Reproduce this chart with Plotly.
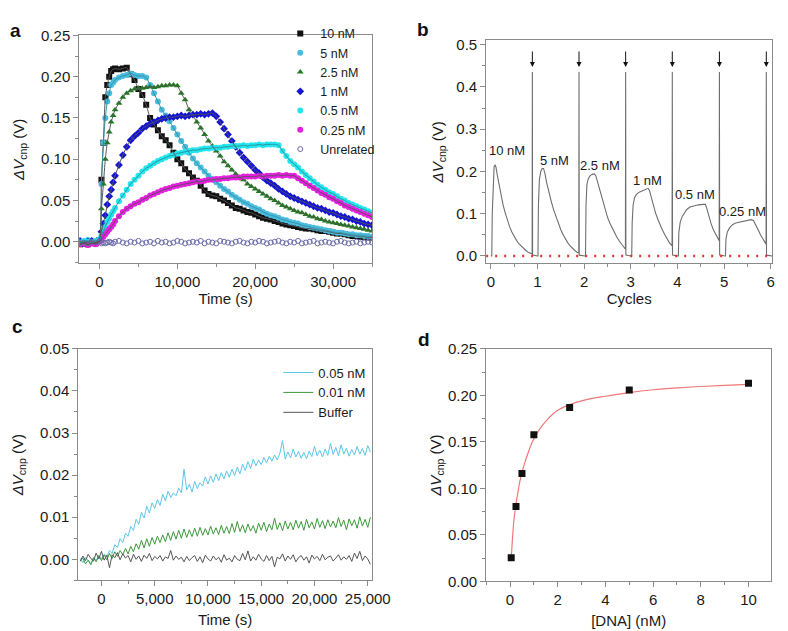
import plotly.graph_objects as go

W, H = 788, 631
FONT = "Liberation Sans, Arial, Helvetica, sans-serif"

# ---------------- Panel a: kinetics for several concentrations ----------------
t_a = list(range(-2500, 0, 500)) + list(range(0, 2001, 250)) + list(range(2500, 35001, 500))

a_10nM = [-0.003, -0.002, -0.003, -0.001, -0.002,
          0.002, 0.075, 0.120, 0.175, 0.190, 0.200, 0.207, 0.209, 0.210,
          0.209, 0.210, 0.211, 0.203, 0.196, 0.185, 0.178, 0.166, 0.150, 0.142,
          0.135, 0.128, 0.123, 0.117, 0.108, 0.100, 0.095, 0.088, 0.083, 0.078,
          0.074, 0.068, 0.062, 0.058, 0.056, 0.055, 0.052, 0.050, 0.047, 0.044,
          0.041, 0.040, 0.038, 0.036, 0.035, 0.033, 0.031, 0.029, 0.028, 0.027,
          0.025, 0.024, 0.022, 0.021, 0.020, 0.019, 0.018, 0.017, 0.016, 0.016,
          0.015, 0.014, 0.013, 0.013, 0.012, 0.011, 0.010, 0.010, 0.009, 0.008,
          0.007, 0.007, 0.006, 0.006, 0.005, 0.005]
a_5nM = [-0.001, 0.000, 0.002, 0.001, 0.000,
         0.003, 0.070, 0.120, 0.150, 0.170, 0.180, 0.190, 0.193, 0.196,
         0.199, 0.201, 0.202, 0.204, 0.202, 0.201, 0.201, 0.199, 0.190, 0.180,
         0.170, 0.160, 0.153, 0.146, 0.138, 0.130, 0.122, 0.115, 0.108, 0.101,
         0.095, 0.090, 0.085, 0.080, 0.076, 0.072, 0.068, 0.064, 0.061, 0.057,
         0.054, 0.051, 0.048, 0.046, 0.043, 0.041, 0.039, 0.036, 0.034, 0.032,
         0.031, 0.029, 0.027, 0.026, 0.024, 0.023, 0.022, 0.020, 0.019, 0.018,
         0.017, 0.016, 0.015, 0.014, 0.013, 0.012, 0.011, 0.011, 0.010, 0.009,
         0.009, 0.008, 0.008, 0.007, 0.007, 0.006]
a_2p5nM = [-0.002, -0.001, 0.000, -0.002, -0.001,
           0.002, 0.040, 0.070, 0.100, 0.120, 0.133, 0.145, 0.153, 0.160,
           0.168, 0.175, 0.180, 0.183, 0.185, 0.186, 0.186, 0.187, 0.188, 0.187,
           0.188, 0.189, 0.189, 0.190, 0.190, 0.189, 0.180, 0.172, 0.160, 0.153,
           0.145, 0.138, 0.130, 0.122, 0.116, 0.110, 0.104, 0.097, 0.092, 0.087,
           0.082, 0.078, 0.075, 0.070, 0.067, 0.064, 0.061, 0.058, 0.055, 0.052,
           0.050, 0.047, 0.044, 0.042, 0.040, 0.038, 0.036, 0.035, 0.033, 0.031,
           0.030, 0.028, 0.027, 0.025, 0.024, 0.023, 0.022, 0.021, 0.020, 0.019,
           0.018, 0.017, 0.016, 0.015, 0.014, 0.013]
a_1nM = [0.001, -0.001, 0.000, 0.001, -0.001,
         0.002, 0.012, 0.022, 0.032, 0.045, 0.055, 0.063, 0.072, 0.080,
         0.093, 0.105, 0.115, 0.123, 0.128, 0.132, 0.137, 0.140, 0.143, 0.145,
         0.147, 0.149, 0.150, 0.151, 0.151, 0.152, 0.153, 0.152, 0.153, 0.154,
         0.154, 0.155, 0.154, 0.155, 0.156, 0.152, 0.145, 0.137, 0.130, 0.122,
         0.115, 0.108, 0.102, 0.097, 0.092, 0.087, 0.083, 0.078, 0.074, 0.071,
         0.068, 0.064, 0.061, 0.058, 0.055, 0.053, 0.051, 0.049, 0.047, 0.045,
         0.043, 0.041, 0.040, 0.038, 0.036, 0.035, 0.033, 0.031, 0.030, 0.028,
         0.027, 0.025, 0.024, 0.022, 0.021, 0.020]
a_0p5nM = [-0.001, 0.001, 0.000, -0.001, 0.001,
           0.002, 0.008, 0.013, 0.018, 0.024, 0.028, 0.033, 0.037, 0.041,
           0.049, 0.056, 0.063, 0.070, 0.075, 0.080, 0.085, 0.089, 0.092, 0.095,
           0.098, 0.100, 0.102, 0.104, 0.105, 0.107, 0.108, 0.109, 0.110, 0.111,
           0.111, 0.112, 0.113, 0.113, 0.114, 0.114, 0.114, 0.115, 0.115, 0.116,
           0.116, 0.116, 0.117, 0.116, 0.117, 0.117, 0.118, 0.117, 0.118, 0.118,
           0.118, 0.117, 0.110, 0.104, 0.098, 0.094, 0.090, 0.085, 0.081, 0.077,
           0.073, 0.069, 0.066, 0.063, 0.060, 0.058, 0.055, 0.052, 0.050, 0.047,
           0.045, 0.043, 0.041, 0.039, 0.037, 0.035]
a_0p25nM = [-0.003, -0.002, -0.004, -0.002, -0.003,
            0.000, 0.003, 0.006, 0.009, 0.012, 0.015, 0.018, 0.021, 0.025,
            0.031, 0.036, 0.040, 0.043, 0.046, 0.048, 0.051, 0.053, 0.056, 0.058,
            0.060, 0.062, 0.064, 0.065, 0.067, 0.068, 0.069, 0.070, 0.071, 0.072,
            0.073, 0.073, 0.074, 0.075, 0.075, 0.076, 0.076, 0.077, 0.077, 0.078,
            0.078, 0.078, 0.079, 0.079, 0.079, 0.079, 0.080, 0.079, 0.080, 0.080,
            0.080, 0.081, 0.080, 0.081, 0.080, 0.080, 0.077, 0.074, 0.071, 0.068,
            0.065, 0.062, 0.059, 0.057, 0.054, 0.052, 0.049, 0.047, 0.044, 0.042,
            0.040, 0.038, 0.036, 0.034, 0.032, 0.030]
a_unrel = [-0.002, -0.001, -0.002, 0.000, -0.001,
           0.001, -0.002, -0.001, -0.002, -0.001, 0.000, -0.001, -0.002, 0.000,
           0.001, -0.001, -0.002, 0.000, -0.001, 0.001, -0.002, -0.001, 0.000, -0.002,
           0.001, -0.001, 0.000, -0.002, -0.001, 0.001, 0.000, -0.002, -0.001, 0.000,
           -0.001, 0.001, -0.002, 0.000, -0.001, -0.002, 0.001, 0.000, -0.001, -0.002,
           0.000, 0.001, -0.001, -0.002, 0.000, -0.001, 0.001, 0.000, -0.002, -0.001,
           0.000, 0.001, -0.001, -0.002, 0.000, -0.001, 0.001, -0.002, -0.001, 0.000,
           0.001, -0.002, -0.001, 0.000, -0.001, -0.002, 0.000, 0.001, -0.001, -0.002,
           -0.001, 0.000, -0.002, -0.001, 0.000, -0.001]

a_names = ["10 nM", "5 nM", "2.5 nM", "1 nM", "0.5 nM", "0.25 nM"]
a_series = [a_10nM, a_5nM, a_2p5nM, a_1nM, a_0p5nM, a_0p25nM]
a_colors = ["#111111", "#48bde0", "#1e7d1e", "#1414d4", "#22e6ef", "#e61ee0"]
a_symbols = ["square", "circle", "triangle-up", "diamond", "circle", "circle"]
a_fitcolors = ["#555555", "#3a8f9c", "#555555", "#555555", "#2f8f96", "#555555"]

# ---------------- Panel b: regeneration cycles ----------------
b_x = [0.00, 0.02,
       0.03, 0.05, 0.07, 0.09, 0.11, 0.14, 0.18, 0.22, 0.26, 0.30, 0.35, 0.40, 0.45, 0.50,
       0.55, 0.60, 0.65, 0.70, 0.75, 0.80, 0.85, 0.885, 0.89, 0.895, 1.00,
       1.01, 1.02, 1.04, 1.07, 1.10, 1.13, 1.16, 1.20, 1.25, 1.30, 1.35, 1.40, 1.45, 1.50,
       1.55, 1.60, 1.65, 1.70, 1.75, 1.80, 1.85, 1.885, 1.89, 1.895, 2.02,
       2.03, 2.04, 2.06, 2.09, 2.13, 2.17, 2.22, 2.25, 2.28, 2.32, 2.36, 2.40, 2.45, 2.50,
       2.55, 2.60, 2.65, 2.70, 2.75, 2.80, 2.85, 2.885, 2.89, 2.895, 3.01,
       3.02, 3.03, 3.05, 3.08, 3.12, 3.18, 3.25, 3.32, 3.37, 3.40, 3.44, 3.48, 3.53, 3.58,
       3.63, 3.68, 3.73, 3.78, 3.83, 3.885, 3.89, 3.895, 4.01,
       4.02, 4.03, 4.06, 4.10, 4.15, 4.20, 4.27, 4.35, 4.45, 4.55, 4.60, 4.63, 4.67, 4.72,
       4.77, 4.82, 4.86, 4.895, 4.90, 4.905, 5.02,
       5.03, 5.04, 5.07, 5.12, 5.18, 5.25, 5.33, 5.42, 5.50, 5.58, 5.63, 5.68, 5.73, 5.78,
       5.83, 5.87, 5.90, 5.905, 5.91, 6.03]
b_y = [0.000, 0.000,
       0.100, 0.190, 0.212, 0.215, 0.210, 0.190, 0.165, 0.142, 0.122, 0.105, 0.086, 0.070, 0.057, 0.046,
       0.037, 0.029, 0.023, 0.017, 0.013, 0.009, 0.006, 0.005, 0.435, 0.002, 0.000,
       0.000, 0.120, 0.180, 0.200, 0.207, 0.207, 0.195, 0.172, 0.148, 0.127, 0.108, 0.091, 0.076, 0.062,
       0.050, 0.040, 0.031, 0.024, 0.018, 0.013, 0.009, 0.007, 0.435, 0.002, 0.000,
       0.000, 0.120, 0.170, 0.183, 0.190, 0.193, 0.194, 0.190, 0.178, 0.160, 0.142, 0.126, 0.108, 0.092,
       0.078, 0.066, 0.055, 0.045, 0.036, 0.028, 0.021, 0.016, 0.435, 0.002, 0.000,
       0.000, 0.080, 0.120, 0.138, 0.146, 0.151, 0.155, 0.158, 0.160, 0.155, 0.138, 0.120, 0.102, 0.087,
       0.073, 0.061, 0.050, 0.040, 0.031, 0.024, 0.435, 0.002, 0.000,
       0.000, 0.055, 0.080, 0.093, 0.103, 0.110, 0.116, 0.119, 0.121, 0.122, 0.122, 0.112, 0.095, 0.077,
       0.062, 0.050, 0.042, 0.036, 0.435, 0.002, 0.000,
       0.000, 0.040, 0.057, 0.067, 0.074, 0.078, 0.080, 0.082, 0.084, 0.086, 0.084, 0.074, 0.062, 0.050,
       0.040, 0.033, 0.028, 0.435, 0.002, 0.000]
b_spikes = [0.89, 1.89, 2.89, 3.89, 4.90, 5.905]
b_labels = ["10 nM", "5 nM", "2.5 nM", "1 nM", "0.5 nM", "0.25 nM"]
b_label_x = [0.34, 1.37, 2.35, 3.36, 4.37, 5.39]
b_label_y = [0.250, 0.227, 0.215, 0.178, 0.146, 0.105]

# ---------------- Panel c: low concentrations ----------------
t_c = list(range(-2000, 25251, 250))
c_0p05nM = [0.0002, -0.0008, 0.0004, -0.0003, -0.0010, 0.0003, -0.0002, 0.0008, 0.0001, 0.0012,
            0.0006, 0.0021, 0.0014, 0.0035, 0.0028, 0.0049, 0.0040, 0.0062, 0.0055, 0.0078,
            0.0069, 0.0095, 0.0083, 0.0112, 0.0098, 0.0126, 0.0110, 0.0134, 0.0121, 0.0142,
            0.0128, 0.0155, 0.0139, 0.0162, 0.0147, 0.0158, 0.0151, 0.0169, 0.0158, 0.0214,
            0.0165, 0.0178, 0.0160, 0.0185, 0.0168, 0.0182, 0.0174, 0.0196, 0.0179, 0.0198,
            0.0183, 0.0203, 0.0187, 0.0206, 0.0191, 0.0210, 0.0195, 0.0214, 0.0199, 0.0219,
            0.0203, 0.0226, 0.0211, 0.0232, 0.0216, 0.0238, 0.0222, 0.0236, 0.0225, 0.0242,
            0.0229, 0.0245, 0.0233, 0.0248, 0.0236, 0.0252, 0.0282, 0.0238, 0.0255, 0.0241,
            0.0262, 0.0243, 0.0256, 0.0240, 0.0254, 0.0239, 0.0257, 0.0244, 0.0268, 0.0246,
            0.0259, 0.0243, 0.0262, 0.0247, 0.0275, 0.0249, 0.0266, 0.0246, 0.0272, 0.0250,
            0.0264, 0.0245, 0.0261, 0.0248, 0.0268, 0.0250, 0.0263, 0.0247, 0.0270, 0.0255]
c_0p01nM = [-0.0004, 0.0003, -0.0011, -0.0002, -0.0013, 0.0004, -0.0006, 0.0009, -0.0003, 0.0010,
            -0.0001, 0.0014, 0.0002, 0.0018, 0.0007, 0.0021, 0.0011, 0.0026, 0.0013, 0.0031,
            0.0018, 0.0037, 0.0024, 0.0045, 0.0027, 0.0049, 0.0031, 0.0052, 0.0036, 0.0055,
            0.0040, 0.0058, 0.0042, 0.0063, 0.0045, 0.0066, 0.0048, 0.0069, 0.0050, 0.0072,
            0.0052, 0.0070, 0.0054, 0.0074, 0.0055, 0.0076, 0.0057, 0.0073, 0.0058, 0.0079,
            0.0060, 0.0075, 0.0059, 0.0081, 0.0062, 0.0078, 0.0061, 0.0085, 0.0064, 0.0090,
            0.0066, 0.0082, 0.0063, 0.0084, 0.0067, 0.0080, 0.0062, 0.0086, 0.0069, 0.0088,
            0.0066, 0.0084, 0.0070, 0.0098, 0.0071, 0.0087, 0.0068, 0.0091, 0.0072, 0.0088,
            0.0070, 0.0093, 0.0074, 0.0090, 0.0069, 0.0095, 0.0075, 0.0089, 0.0072, 0.0097,
            0.0076, 0.0092, 0.0073, 0.0094, 0.0077, 0.0091, 0.0075, 0.0099, 0.0078, 0.0093,
            0.0070, 0.0096, 0.0080, 0.0094, 0.0074, 0.0101, 0.0079, 0.0095, 0.0076, 0.0100]
c_buffer = [-0.0005, 0.0008, -0.0003, 0.0012, 0.0002, -0.0004, 0.0015, 0.0001, 0.0019, -0.0002,
            0.0010, -0.0020, 0.0011, 0.0004, 0.0016, -0.0001, 0.0013, 0.0003, 0.0009, -0.0006,
            0.0012, 0.0000, 0.0008, -0.0005, 0.0010, 0.0002, 0.0014, -0.0003, 0.0007, 0.0001,
            0.0009, -0.0004, 0.0006, 0.0002, 0.0021, -0.0002, 0.0008, 0.0000, 0.0005, -0.0006,
            0.0007, -0.0003, 0.0004, 0.0009, -0.0005, 0.0006, -0.0008, 0.0010, 0.0001, -0.0004,
            0.0008, -0.0001, 0.0005, -0.0007, 0.0011, -0.0002, 0.0003, -0.0006, 0.0009, 0.0000,
            -0.0003, 0.0014, -0.0001, 0.0020, -0.0004, 0.0006, -0.0002, 0.0012, 0.0001, -0.0005,
            0.0009, -0.0003, 0.0007, -0.0018, 0.0005, 0.0001, 0.0013, -0.0004, 0.0008, 0.0000,
            0.0011, -0.0006, 0.0004, 0.0009, -0.0002, 0.0006, -0.0009, 0.0010, 0.0001, 0.0007,
            -0.0003, 0.0012, -0.0001, 0.0005, 0.0008, -0.0004, 0.0003, 0.0011, -0.0002, 0.0006,
            0.0000, 0.0009, -0.0005, 0.0015, 0.0002, 0.0019, -0.0003, 0.0008, 0.0001, -0.0012]
c_names = ["0.05 nM", "0.01 nM", "Buffer"]
c_series = [c_0p05nM, c_0p01nM, c_buffer]
c_colors = ["#5cc6e6", "#3c983c", "#555555"]

# ---------------- Panel d: dose response ----------------
d_conc = [0.05, 0.25, 0.5, 1.0, 2.5, 5.0, 10.0]
d_resp = [0.0254, 0.0804, 0.1160, 0.1577, 0.1870, 0.2058, 0.2131]
d_fit_x = [0.05, 0.10, 0.15, 0.20, 0.25, 0.30, 0.40, 0.50, 0.60, 0.70, 0.80, 0.90, 1.00,
           1.20, 1.40, 1.60, 1.80, 2.00, 2.50, 3.00, 3.50, 4.00, 5.00, 6.00, 7.00, 8.00, 9.00, 10.0]
d_fit_y = [0.024, 0.045, 0.062, 0.074, 0.083, 0.091, 0.106, 0.117, 0.126, 0.134, 0.141, 0.148, 0.153,
           0.162, 0.169, 0.175, 0.180, 0.184, 0.190, 0.194, 0.197, 0.199, 0.203, 0.206, 0.208, 0.2095,
           0.2107, 0.2117]

fig = go.Figure()

# panel a traces
for name, ys, col, sym in zip(a_names, a_series, a_colors, a_symbols):
    fig.add_trace(go.Scatter(x=t_a, y=ys, mode="markers", name=name, xaxis="x", yaxis="y",
                             marker=dict(symbol=sym, size=6, color=col, line=dict(width=0)),
                             legend="legend"))
fig.add_trace(go.Scatter(x=t_a, y=a_unrel, mode="markers", name="Unrelated", xaxis="x", yaxis="y",
                         marker=dict(symbol="circle-open", size=5, color="#6b6bab", line=dict(width=1)),
                         legend="legend"))
for ys, col in zip(a_series, a_fitcolors):
    fig.add_trace(go.Scatter(x=t_a, y=ys, mode="lines", showlegend=False, xaxis="x", yaxis="y",
                             line=dict(color=col, width=1, shape="spline", smoothing=0.6),
                             hoverinfo="skip"))

# panel b
fig.add_trace(go.Scatter(x=b_x, y=b_y, mode="lines", showlegend=False, xaxis="x2", yaxis="y2",
                         line=dict(color="#6e6e6e", width=1.1)))

# panel c
for name, ys, col in zip(c_names, c_series, c_colors):
    fig.add_trace(go.Scatter(x=t_c, y=ys, mode="lines", name=name, xaxis="x3", yaxis="y3",
                             line=dict(color=col, width=1), legend="legend2"))

# panel d
fig.add_trace(go.Scatter(x=d_fit_x, y=d_fit_y, mode="lines", showlegend=False, xaxis="x4", yaxis="y4",
                         line=dict(color="#f07878", width=1.2, shape="spline")))
fig.add_trace(go.Scatter(x=d_conc, y=d_resp, mode="markers", showlegend=False, xaxis="x4", yaxis="y4",
                         marker=dict(symbol="square", size=7, color="#111111")))


def px_dom(a, b, total):
    return [a / total, b / total]


def py_dom(top, bottom):
    return [1 - bottom / H, 1 - top / H]


AX_COL = "#8a8a8a"
tickfont = dict(family=FONT, size=15, color="#1a1a1a")
titlefont = dict(family=FONT, size=15, color="#1a1a1a")


def axis(domain, rng, dtick, minor_dtick, fmt, anchor, title, standoff, tick0=0):
    return dict(domain=domain, range=rng, anchor=anchor, showgrid=False, zeroline=False,
                showline=True, mirror=True, linecolor=AX_COL, linewidth=1,
                ticks="outside", ticklen=5, tickcolor=AX_COL, tickwidth=1,
                tick0=tick0, dtick=dtick, tickformat=fmt, tickfont=tickfont,
                minor=dict(dtick=minor_dtick, tick0=tick0, ticklen=3, tickcolor=AX_COL, ticks="outside"),
                title=dict(text=title, font=titlefont, standoff=standoff))


ytitle = "<i>ΔV</i><sub>cnp</sub> (V)"

layout = dict(
    width=W, height=H, margin=dict(l=0, r=0, t=0, b=0),
    paper_bgcolor="white", plot_bgcolor="white",
    font=dict(family=FONT, color="#1a1a1a"),
    xaxis=axis(px_dom(73, 373, W), [-2600, 35000], 10000, 5000, ",", "y", "Time (s)", 0),
    yaxis=axis(py_dom(19, 253), [-0.026, 0.25], 0.05, 0.025, ".2f", "x", ytitle, 12),
    xaxis2=axis(px_dom(490, 783, W), [-0.1, 6.03], 1, 0.5, "d", "y2", "Cycles", 0),
    yaxis2=axis(py_dom(24, 253), [-0.017, 0.51], 0.1, 0.05, ".1f", "x2", ytitle, 9),
    xaxis3=axis(px_dom(72, 373, W), [-2180, 25400], 5000, 2500, ",", "y3", "Time (s)", 8),
    yaxis3=axis(py_dom(341, 579), [-0.005, 0.05], 0.01, 0.005, ".2f", "x3", ytitle, 12),
    xaxis4=axis(px_dom(490, 782, W), [-1.0, 10.95], 2, 1, "d", "y4", "[DNA] (nM)", 8),
    yaxis4=axis(py_dom(341, 580), [0, 0.25], 0.05, 0.025, ".2f", "x4", ytitle, 2),
    legend=dict(x=279 / W, y=1 - 2 / H, xanchor="left", yanchor="top", bgcolor="rgba(0,0,0,0)",
                font=dict(family=FONT, size=12.5, color="#1a1a1a"), tracegroupgap=0, itemwidth=30),
    legend2=dict(x=277 / W, y=1 - 350 / H, xanchor="left", yanchor="top", bgcolor="rgba(0,0,0,0)",
                 font=dict(family=FONT, size=13, color="#1a1a1a"), itemwidth=30),
    showlegend=True,
)
fig.update_layout(**layout)

# red dotted baseline in panel b
fig.add_shape(type="line", xref="x2 domain", yref="y2", x0=0, x1=1, y0=0, y1=0,
              line=dict(color="#e3342f", width=2.5, dash="2px,7px"), layer="above")

# arrows over the regeneration spikes
for xs in b_spikes:
    fig.add_annotation(x=xs, y=0.447, xref="x2", yref="y2", text="", showarrow=True,
                       ax=0, ay=-17, arrowhead=2, arrowsize=1, arrowwidth=1, arrowcolor="#111111")

# concentration labels in panel b
for lab, lx, ly in zip(b_labels, b_label_x, b_label_y):
    fig.add_annotation(x=lx, y=ly, xref="x2", yref="y2", text=lab, showarrow=False,
                       font=dict(family=FONT, size=13, color="#1a1a1a"))

# panel letters
for letter, lx, ly in [("a", 8, 14), ("b", 425, 13), ("c", 10, 318), ("d", 426, 331)]:
    fig.add_annotation(x=lx / W, y=1 - ly / H, xref="paper", yref="paper", text=f"<b>{letter}</b>",
                       showarrow=False, xanchor="center", yanchor="middle",
                       font=dict(family=FONT, size=19, color="#111111"))

fig.write_html("out.html")
